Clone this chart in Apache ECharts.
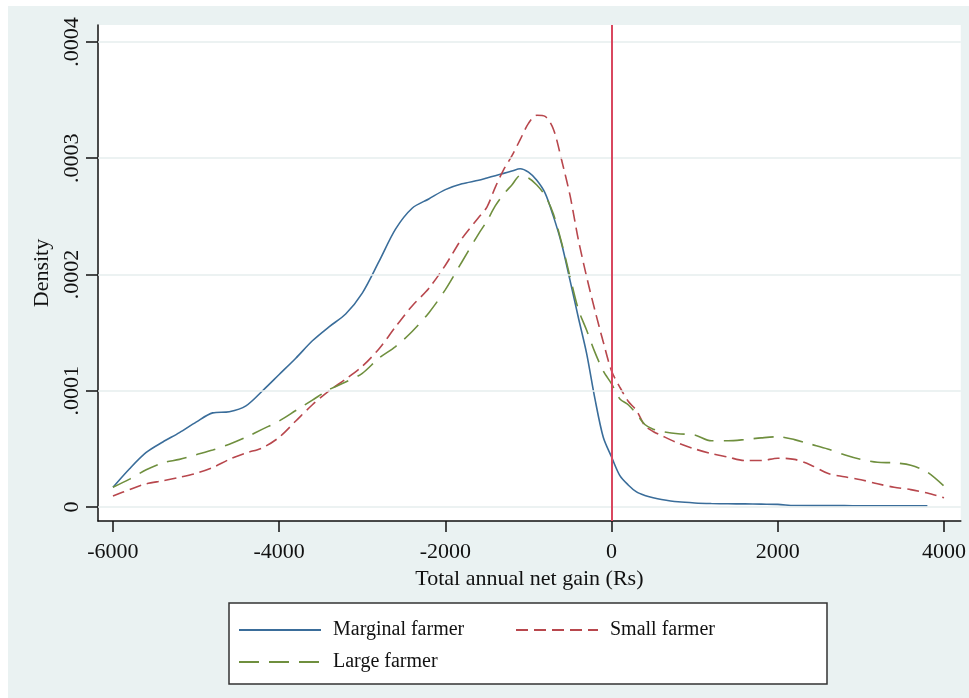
<!DOCTYPE html>
<html>
<head>
<meta charset="utf-8">
<title>Net gain density</title>
<script src="https://cdn.jsdelivr.net/npm/echarts@6/dist/echarts.min.js"></script>
<style>
    body { margin: 0; background: #fff; }
    #bg { position: absolute; left: 8px; top: 6px; right: 0; bottom: 0; background: #eaf2f2; }
    #chart { position: absolute; left: 0; top: 0; width: 969px; height: 698px; }
</style>
</head>
<body>
<div id="bg"></div>
<div id="chart"></div>
<script>
    // x grid (Rs), densities in units of 1e-4
    var gains = [-6000,-5800,-5600,-5400,-5200,-5000,-4800,-4600,-4400,-4200,-4000,-3800,-3600,-3400,-3200,-3000,-2800,-2600,-2400,-2200,-2000,-1800,-1600,
        -1500,-1400,-1300,-1200,-1100,-1000,-900,-800,-700,-600,-500,-400,-300,-200,-100,0,100,200,300,400,500,600,
        800,1000,1200,1400,1600,1800,2000,2200,2400,2600,2800,3000,3200,3400,3600,3800,4000];

    var marginal = [0.17,0.33,0.47,0.56,0.64,0.73,0.81,0.82,0.87,1.00,1.14,1.28,1.43,1.55,1.66,1.84,2.11,2.39,2.57,2.65,2.73,2.78,2.81,
        2.83,2.85,2.87,2.89,2.91,2.88,2.81,2.70,2.50,2.26,1.95,1.63,1.32,0.93,0.60,0.43,0.27,0.19,0.13,0.10,0.08,0.065,
        0.045,0.035,0.03,0.028,0.027,0.025,0.023,0.013,0.012,0.012,0.012,0.011,0.011,0.011,0.011,0.011,null];

    var small = [0.095,0.15,0.20,0.225,0.255,0.29,0.34,0.41,0.465,0.51,0.60,0.74,0.88,1.00,1.10,1.21,1.36,1.55,1.73,1.88,2.08,2.31,2.49,
        2.58,2.75,2.90,3.02,3.16,3.30,3.37,3.36,3.25,2.98,2.68,2.30,1.98,1.69,1.42,1.17,1.03,0.91,0.83,0.70,0.65,0.615,
        0.55,0.50,0.46,0.43,0.40,0.40,0.42,0.41,0.36,0.29,0.26,0.235,0.20,0.17,0.15,0.12,0.08];

    var large = [0.17,0.24,0.32,0.38,0.41,0.45,0.49,0.54,0.60,0.67,0.74,0.83,0.92,1.01,1.075,1.15,1.28,1.38,1.51,1.67,1.87,2.11,2.35,
        2.46,2.59,2.69,2.77,2.85,2.83,2.77,2.68,2.52,2.27,1.98,1.70,1.52,1.33,1.17,1.06,0.93,0.88,0.80,0.71,0.67,0.65,
        0.63,0.62,0.57,0.57,0.58,0.595,0.605,0.58,0.54,0.50,0.45,0.41,0.385,0.38,0.36,0.30,0.18];

    var xTicks = [-6000, -4000, -2000, 0, 2000, 4000];
    var yTicks = [0, 1, 2, 3, 4];
    var yTickLabels = ['0', '.0001', '.0002', '.0003', '.0004'];

    function pairs(ys) {
        var out = [];
        for (var i = 0; i < gains.length; i++) out.push([gains[i], ys[i]]);
        return out;
    }

    var serif = '"Liberation Serif", "DejaVu Serif", serif';
    var chart = echarts.init(document.getElementById('chart'), null, { renderer: 'canvas' });

    var option = {
        backgroundColor: 'transparent',
        animation: false,
        grid: {
            left: 98, top: 25, right: 8, bottom: 177,
            show: true, backgroundColor: '#fff', borderWidth: 0
        },
        xAxis: {
            type: 'value', min: -6180, max: 4202,
            name: 'Total annual net gain (Rs)', nameLocation: 'middle', nameGap: 46,
            nameTextStyle: { fontFamily: serif, fontSize: 22, color: '#111' },
            axisLine: { onZero: false, lineStyle: { color: '#111', width: 1.5 } },
            axisTick: { customValues: xTicks, length: 11, lineStyle: { color: '#111', width: 1.5 } },
            axisLabel: {
                customValues: xTicks, margin: 20, fontFamily: serif, fontSize: 22, color: '#111',
                formatter: function (v) { return String(v); }
            },
            splitLine: { show: false }
        },
        yAxis: {
            type: 'value', min: -0.12, max: 4.146,
            name: 'Density', nameLocation: 'middle', nameGap: 41, nameRotate: 90,
            nameTextStyle: { fontFamily: serif, fontSize: 22, color: '#111' },
            axisLine: { show: true, onZero: false, lineStyle: { color: '#111', width: 1.5 } },
            axisTick: { show: true, customValues: yTicks, length: 12, lineStyle: { color: '#111', width: 1.5 } },
            axisLabel: {
                customValues: yTicks, rotate: 90, margin: 15, fontFamily: serif, fontSize: 22, color: '#111',
                formatter: function (v) { return yTickLabels[yTicks.indexOf(v)]; }
            },
            splitLine: { show: false }
        },
        legend: {
            data: ['Marginal farmer', 'Small farmer', 'Large farmer'],
            left: 229, top: 603, width: 570,
            orient: 'horizontal',
            padding: [16, 45, 11, 9],
            itemWidth: 82, itemHeight: 14, itemGap: 10,
            itemStyle: { opacity: 0 },
            backgroundColor: '#fff', borderColor: '#333', borderWidth: 1.5, borderRadius: 0,
            textStyle: { fontFamily: serif, fontSize: 20, color: '#111', width: 172, lineHeight: 22, padding: [0, 0, 0, 7] }
        },
        series: [
            {
                name: 'grid', type: 'line', data: [], silent: true,
                markLine: {
                    silent: true, symbol: 'none', label: { show: false },
                    lineStyle: { color: '#e6eeee', width: 1.5, type: 'solid' },
                    data: yTicks.map(function (v) { return { yAxis: v }; })
                }
            },
            {
                name: 'Marginal farmer', type: 'line', data: pairs(marginal), showSymbol: false, symbol: 'none',
                smooth: 0.3, connectNulls: false,
                lineStyle: { color: '#3a6d9a', width: 1.6 }, itemStyle: { color: '#3a6d9a' }
            },
            {
                name: 'Small farmer', type: 'line', data: pairs(small), showSymbol: false, symbol: 'none',
                smooth: 0.3,
                lineStyle: { color: '#b8474d', width: 1.6, type: [12, 6] }, itemStyle: { color: '#b8474d' }
            },
            {
                name: 'Large farmer', type: 'line', data: pairs(large), showSymbol: false, symbol: 'none',
                smooth: 0.3,
                lineStyle: { color: '#6f8f3e', width: 1.6, type: [20, 10] }, itemStyle: { color: '#6f8f3e' },
                markLine: {
                    silent: true, symbol: 'none', label: { show: false },
                    lineStyle: { color: '#d9475f', width: 2, type: 'solid' },
                    data: [{ xAxis: 0 }]
                }
            }
        ]
    };

    chart.setOption(option);
</script>
</body>
</html>
